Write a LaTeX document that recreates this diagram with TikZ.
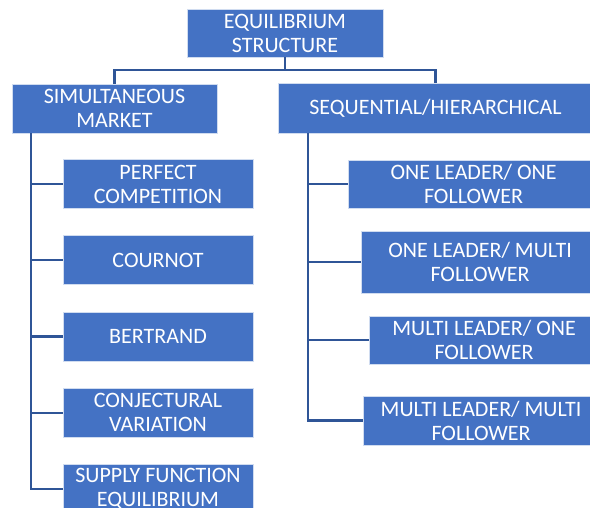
\documentclass[tikz,border=0pt]{standalone}
\usepackage{fontspec}
\setmainfont{Carlito}
\usetikzlibrary{positioning}
\definecolor{boxblue}{HTML}{4472C4}
\definecolor{linkblue}{HTML}{2F5597}
\tikzset{
    every node/.style={font=\fontsize{22}{24}\selectfont},
    bluebox/.style={fill=boxblue, draw=white!75!boxblue, line width=0.8pt, text=white, align=center, inner sep=0pt, minimum height=49pt},
    link/.style={draw=linkblue, line width=2.2pt},
}

\begin{document}
\begin{tikzpicture}[x=1pt,y=-1pt]
\useasboundingbox (0,0) rectangle (590,508);
% top level
\node[bluebox, minimum width=196pt, minimum height=48pt] (eq) at (285,33) {EQUILIBRIUM\\STRUCTURE};
\node[bluebox, minimum width=205pt] (sim) at (114.5,108.5) {SIMULTANEOUS\\MARKET};
\node[bluebox, minimum width=315pt, minimum height=50pt] (seq) at (435.5,108) {SEQUENTIAL/HIERARCHICAL};

\coordinate (fork) at ([yshift=-13pt]eq.south);
\draw[link] (eq.south) -- (fork) -| (sim.north);
\draw[link] (fork) -| (seq.north);

% simultaneous branch
\node[bluebox, minimum width=190pt] (sim-1) at (158,184) {PERFECT\\COMPETITION};
\foreach \i/\text in {2/{COURNOT}, 3/{BERTRAND}, 4/{CONJECTURAL\\VARIATION}, 5/{SUPPLY FUNCTION\\EQUILIBRIUM}}{
  \pgfmathtruncatemacro{\j}{\i-1} % previous box
  \node[bluebox, minimum width=190pt, below=26.5pt of sim-\j] (sim-\i) {\text};
}

\coordinate (simtrunk) at ([xshift=19pt]sim.south west);
\foreach \i in {1,...,5}{
  \draw[link] (simtrunk) |- (sim-\i.west);
}

% sequential branch
\foreach \i/\y/\w/\h/\text in {1/184/250/48/{ONE LEADER/ ONE\\FOLLOWER}, 2/262/237/62/{ONE LEADER/ MULTI\\FOLLOWER}, 3/340/229/48/{MULTI LEADER/ ONE\\FOLLOWER}, 4/420.5/235/49/{MULTI LEADER/ MULTI\\FOLLOWER}}{
  \node[bluebox, anchor=east, minimum width=\w pt, minimum height=\h pt] (seq-\i) at (599,\y) {\text};
}

\coordinate (seqtrunk) at ([xshift=30.5pt]seq.south west);
\foreach \i in {1,...,4}{
  \draw[link] (seqtrunk) |- (seq-\i.west);
}
\end{tikzpicture}
\end{document}
